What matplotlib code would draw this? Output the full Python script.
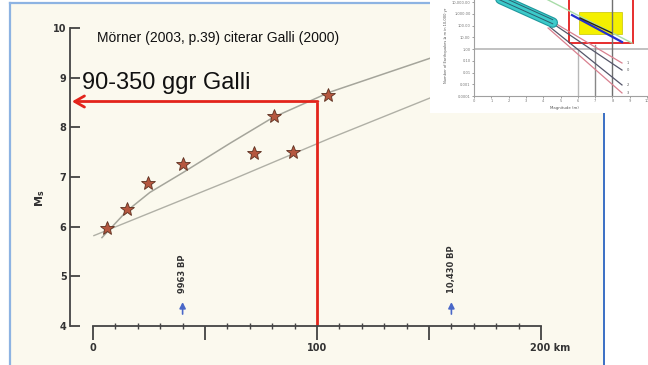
import numpy as np
import matplotlib.pyplot as plt
from matplotlib.patches import Rectangle
from matplotlib.lines import Line2D
from matplotlib.transforms import ScaledTranslation

# Galli (2000): magnitude vs. distance, with Mörner's reading on top
star_km = [6.3, 15.1, 24.4, 40.0, 71.9, 80.8, 89.3, 104.9]
star_ms = [5.98, 6.36, 6.87, 7.27, 7.49, 8.22, 7.50, 8.65]

upper_km = [4.0, 15.2, 25.4, 40.2, 61.2, 80.4, 105.8, 150.4, 180.0]
upper_ms = [5.78, 6.32, 6.69, 7.09, 7.68, 8.20, 8.71, 9.39, 9.80]
lower_km = [0.4, 61.2, 105.8, 150.4, 180.0]
lower_ms = [5.82, 6.93, 7.78, 8.59, 9.12]

galli_km = 100
galli_ms = 8.52

bp_km = [40, 160]
bp_labels = ["9963 BP", "10,430 BP"]

x_major = [0, 50, 100, 150, 200]
x_major_labels = ["0", "", "100", "", "200 km"]
y_ticks = [4, 5, 6, 7, 8, 9, 10]

# small magnitude-frequency chart (log10 of count)
mf_yticks = [-4, -3, -2, -1, 0, 1, 2, 3, 4]
mf_ylabels = ["0.0001", "0.001", "0.01", "0.10", "1.00", "10.00",
              "100.00", "1,000.00", "10,000.00"]
band_mag = [1.0, 4.55]
band_log = [4.61, 2.25]
fan_start_mag = [4.57, 4.51, 4.39, 4.28]
fan_start_log = [2.30, 2.21, 1.87, 1.79]
fan_end_mag = [8.55, 8.55, 8.55, 8.55]
fan_end_log = [-1.19, -1.79, -3.06, -3.74]
fan_names = ["1", "0", "2", "3"]
fan_colors = ["#d9808f", "#55566a", "#55566a", "#d9808f"]
green_mag, green_log = [4.2, 9.13], [4.24, 0.51]
blue_mag, blue_log = [5.66, 8.55], [2.89, 0.60]
black_mag, black_log = [6.13, 7.98], [2.64, 1.36]
yellow_mag, yellow_log = [6.07, 8.55], [1.32, 3.11]
red_mag, red_log = [5.49, 9.19], [0.51, 5.0]

W, H = 648, 365
fig = plt.figure(figsize=(W / 100, H / 100), dpi=100)
fig.patch.set_facecolor("white")

# cream slide panel with blue edges
fig.add_artist(Rectangle((10 / W, -0.02), 594 / W, 1 - 3 / H + 0.02,
                         transform=fig.transFigure, facecolor="#fbf9ee",
                         edgecolor="none", zorder=-1))
fig.add_artist(Line2D([10 / W, 10 / W], [0, 1 - 3 / H], color="#8db3e2", lw=1.6))
fig.add_artist(Line2D([10 / W, 430 / W], [1 - 3 / H] * 2, color="#8db3e2", lw=1.6))
fig.add_artist(Line2D([604 / W] * 2, [0, 1 - 113 / H], color="#3a6fc4", lw=1.4))

ax = fig.add_axes([70 / W, 39 / H, 560 / W, 298 / H])
ax.set_facecolor("none")
ax.set_xlim(-10.27, -10.27 + 560 / 2.24)
ax.set_ylim(4, 10)
for s in ["top", "right"]:
    ax.spines[s].set_visible(False)
for s in ["left", "bottom"]:
    ax.spines[s].set_color("#444444")
    ax.spines[s].set_linewidth(1.3)
ax.spines["left"].set_bounds(4, 10)
ax.spines["bottom"].set_bounds(0, 200)

ax.set_xticks(x_major)
ax.set_xticklabels(x_major_labels)
ax.set_xticks(np.arange(0, 201, 10), minor=True)
ax.set_yticks(y_ticks)
ax.tick_params(axis="y", direction="in", length=7, width=1.2, pad=2.5,
               labelsize=7, colors="#333333")
ax.tick_params(axis="x", which="major", direction="out", length=10, width=1.2,
               pad=2, labelsize=7, colors="#333333")
ax.tick_params(axis="x", which="minor", direction="inout", length=5, width=1,
               colors="#444444")
for lbl in ax.get_xticklabels() + ax.get_yticklabels():
    lbl.set_fontweight("bold")
last = ax.get_xticklabels()[-1]
last.set_transform(last.get_transform() + ScaledTranslation(0.09, 0, fig.dpi_scale_trans))

ax.set_ylabel("M$_\\mathregular{s}$", fontsize=8, fontweight="bold", color="#333333")
ax.yaxis.set_label_coords(-0.041, 0.43)

ax.plot(upper_km, upper_ms, color="#a5a59b", lw=1.1)
ax.plot(lower_km, lower_ms, color="#b0b0a6", lw=1.0)
ax.plot(star_km, star_ms, ls="none", marker="*", ms=10, mfc="#b5573f",
        mec="#5c3020", mew=0.6)

red = "#e3241b"
ax.plot([galli_km, galli_km], [4, galli_ms], color=red, lw=2, solid_capstyle="butt")
ax.annotate("", xy=(-9.4, galli_ms), xytext=(galli_km + 0.4, galli_ms),
            arrowprops=dict(arrowstyle="->,head_length=0.7,head_width=0.4",
                            color=red, lw=2, shrinkA=0, shrinkB=0))

for km, txt in zip(bp_km, bp_labels):
    ax.annotate("", xy=(km, 4.48), xytext=(km, 4.24),
                arrowprops=dict(arrowstyle="-|>,head_length=0.35,head_width=0.18",
                                color="#4a68c8", lw=1.2, shrinkA=0, shrinkB=0))
    ax.text(km, 4.66, txt, rotation=90, ha="center", va="bottom", fontsize=6,
            fontweight="bold", color="#333333")

ax.text(1.8, 9.80, "Mörner (2003, p.39) citerar Galli (2000)", fontsize=10,
        family="Liberation Sans", va="center", color="#111111")
ax.text(-4.9, 8.89, "90-350 ggr Galli", fontsize=17, family="Liberation Sans",
        va="center", color="#111111")

# inset: white card with the magnitude-frequency plot
fig.add_artist(Rectangle((430 / W, 1 - 113 / H), 230 / W, 113 / H + 0.02,
                         transform=fig.transFigure, facecolor="white",
                         edgecolor="none", zorder=2))
ins = fig.add_axes([474 / W, 269 / H, 180 / W, 101 / H])
ins.set_zorder(3)
ins.set_facecolor("white")
ins.set_xlim(0, 10.4)
ins.set_ylim(-4, 4.6)
for s in ["top", "right"]:
    ins.spines[s].set_visible(False)
for s in ["left", "bottom"]:
    ins.spines[s].set_color("#a0a0a0")
    ins.spines[s].set_linewidth(0.8)
ins.set_xticks(range(11))
ins.set_yticks(mf_yticks)
ins.set_yticklabels(mf_ylabels)
ins.tick_params(length=1.5, width=0.5, pad=1, labelsize=2.6, colors="#777777")
ins.set_xlabel("Magnitude (m)", fontsize=2.8, labelpad=1.5, color="#555555")
ins.set_ylabel("Number of Earthquakes \u2265 m in 10,000 yr", fontsize=2.6,
               labelpad=3, color="#555555")

ins.axhline(0, color="#b0b0b0", lw=1.1)
ins.plot([6, 6], [-4, 0], color="#b8b8b8", lw=1.0)
ins.plot([7, 7], [-4, 0.3], color="#888888", lw=1.0)
ins.plot([8, 8], [-4, 4.6], color="#707070", lw=1.0)

ins.add_patch(Rectangle((yellow_mag[0], yellow_log[0]), yellow_mag[1] - yellow_mag[0],
                        yellow_log[1] - yellow_log[0], facecolor="#f4f000",
                        edgecolor="#c8c400", lw=0.5))
ins.plot(green_mag, green_log, color="#a8dca8", lw=1.0)
for xs, ys, xe, ye, name, c in zip(fan_start_mag, fan_start_log, fan_end_mag,
                                   fan_end_log, fan_names, fan_colors):
    ins.plot([xs, xe], [ys, ye], color=c, lw=0.9)
    ins.text(xe + 0.25, ye, name, fontsize=2.6, color="#555555", va="center")
ins.plot(blue_mag, blue_log, color="#2430d0", lw=1.6)
ins.plot(black_mag, black_log, color="#222222", lw=1.0)

ins.plot(band_mag, band_log, color="#1f979c", lw=7.6, solid_capstyle="round")
ins.plot(band_mag, band_log, color="#3ccaca", lw=6.0, solid_capstyle="round")
ins.plot(band_mag, [v + 0.25 for v in band_log], color="#2a6070", lw=0.7)
ins.plot(band_mag, [v - 0.1 for v in band_log], color="#2a6070", lw=0.7)

ins.add_patch(Rectangle((red_mag[0], red_log[0]), red_mag[1] - red_mag[0],
                        red_log[1] - red_log[0], facecolor="none",
                        edgecolor="#e51d1d", lw=1.3))

fig.savefig("out.png", dpi=100)
